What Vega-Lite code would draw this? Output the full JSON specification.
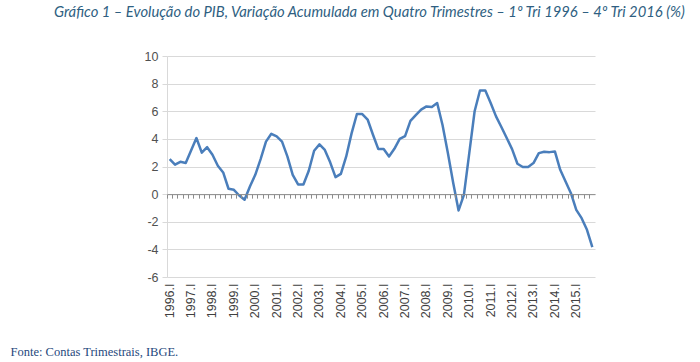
{
  "$schema": "https://vega.github.io/schema/vega-lite/v6.json",
  "autosize": "none",
  "padding": {"left": 167, "top": 56, "right": 105, "bottom": 85},
  "width": 428,
  "height": 221,
  "background": "white",
  "config": {"view": {"stroke": null}},
  "title": {
    "text": "Gráfico 1 – Evolução do PIB, Variação Acumulada em Quatro Trimestres – 1º Tri 1996 – 4º Tri 2016 (%)",
    "anchor": "start",
    "frame": "group",
    "dx": -113,
    "offset": 30,
    "font": "Lato",
    "fontStyle": "italic",
    "fontWeight": "normal",
    "fontSize": 14.8,
    "color": "#2f5f82"
  },
  "data": {
    "values": [
      {"q": "1996.I", "v": 2.54}, {"q": "1996.II", "v": 2.13}, {"q": "1996.III", "v": 2.34}, {"q": "1996.IV", "v": 2.25},
      {"q": "1997.I", "v": 3.16}, {"q": "1997.II", "v": 4.06}, {"q": "1997.III", "v": 3.0}, {"q": "1997.IV", "v": 3.4},
      {"q": "1998.I", "v": 2.85}, {"q": "1998.II", "v": 2.05}, {"q": "1998.III", "v": 1.57}, {"q": "1998.IV", "v": 0.39},
      {"q": "1999.I", "v": 0.31}, {"q": "1999.II", "v": -0.1}, {"q": "1999.III", "v": -0.41}, {"q": "1999.IV", "v": 0.55},
      {"q": "2000.I", "v": 1.4}, {"q": "2000.II", "v": 2.54}, {"q": "2000.III", "v": 3.8}, {"q": "2000.IV", "v": 4.37},
      {"q": "2001.I", "v": 4.18}, {"q": "2001.II", "v": 3.8}, {"q": "2001.III", "v": 2.73}, {"q": "2001.IV", "v": 1.4},
      {"q": "2002.I", "v": 0.7}, {"q": "2002.II", "v": 0.7}, {"q": "2002.III", "v": 1.69}, {"q": "2002.IV", "v": 3.14},
      {"q": "2003.I", "v": 3.6}, {"q": "2003.II", "v": 3.2}, {"q": "2003.III", "v": 2.3}, {"q": "2003.IV", "v": 1.23},
      {"q": "2004.I", "v": 1.47}, {"q": "2004.II", "v": 2.73}, {"q": "2004.III", "v": 4.4}, {"q": "2004.IV", "v": 5.8},
      {"q": "2005.I", "v": 5.8}, {"q": "2005.II", "v": 5.4}, {"q": "2005.III", "v": 4.3}, {"q": "2005.IV", "v": 3.26},
      {"q": "2006.I", "v": 3.26}, {"q": "2006.II", "v": 2.73}, {"q": "2006.III", "v": 3.28}, {"q": "2006.IV", "v": 4.0},
      {"q": "2007.I", "v": 4.2}, {"q": "2007.II", "v": 5.3}, {"q": "2007.III", "v": 5.72}, {"q": "2007.IV", "v": 6.12},
      {"q": "2008.I", "v": 6.35}, {"q": "2008.II", "v": 6.3}, {"q": "2008.III", "v": 6.6}, {"q": "2008.IV", "v": 5.0},
      {"q": "2009.I", "v": 2.97}, {"q": "2009.II", "v": 0.8}, {"q": "2009.III", "v": -1.18}, {"q": "2009.IV", "v": -0.05},
      {"q": "2010.I", "v": 2.97}, {"q": "2010.II", "v": 6.0}, {"q": "2010.III", "v": 7.5}, {"q": "2010.IV", "v": 7.5},
      {"q": "2011.I", "v": 6.6}, {"q": "2011.II", "v": 5.63}, {"q": "2011.III", "v": 4.86}, {"q": "2011.IV", "v": 4.06},
      {"q": "2012.I", "v": 3.26}, {"q": "2012.II", "v": 2.2}, {"q": "2012.III", "v": 1.96}, {"q": "2012.IV", "v": 1.96},
      {"q": "2013.I", "v": 2.25}, {"q": "2013.II", "v": 2.97}, {"q": "2013.III", "v": 3.07}, {"q": "2013.IV", "v": 3.04},
      {"q": "2014.I", "v": 3.09}, {"q": "2014.II", "v": 1.76}, {"q": "2014.III", "v": 0.92}, {"q": "2014.IV", "v": 0.07},
      {"q": "2015.I", "v": -1.14}, {"q": "2015.II", "v": -1.74}, {"q": "2015.III", "v": -2.58}, {"q": "2015.IV", "v": -3.84}
    ]
  },
  "layer": [
    {
      "mark": {"type": "line", "strokeOpacity": 0},
      "encoding": {
        "x": {
          "field": "q", "type": "ordinal", "sort": null,
          "scale": {"type": "band", "paddingInner": 0, "paddingOuter": 0},
          "axis": {
            "orient": "bottom",
            "offset": -82.875,
            "labels": false,
            "domain": true,
            "domainColor": "#8c8c8c",
            "ticks": true,
            "tickColor": "#8c8c8c",
            "tickSize": 4,
            "bandPosition": 0,
            "grid": false,
            "title": null,
            "zindex": 1
          }
        },
        "y": {
          "field": "v", "type": "quantitative",
          "scale": {"domain": [-6, 10], "nice": false, "zero": false},
          "axis": {
            "values": [-6, -4, -2, 0, 2, 4, 6, 8, 10],
            "labelExpr": "replace(datum.label, '−', '-')",
            "title": null,
            "grid": true,
            "gridColor": "#d9d9d9",
            "gridWidth": 1,
            "domain": true,
            "domainColor": "#d9d9d9",
            "ticks": true,
            "tickColor": "#d9d9d9",
            "tickSize": 5,
            "labelPadding": 4,
            "labelFont": "Liberation Sans",
            "labelFontSize": 12.5,
            "labelColor": "#505050"
          }
        }
      }
    },
    {
      "mark": {"type": "line", "color": "#4a7ebb", "strokeWidth": 2.5, "strokeJoin": "round"},
      "encoding": {
        "x": {
          "field": "q", "type": "ordinal", "sort": null,
          "axis": {
            "orient": "bottom",
            "domain": false,
            "ticks": false,
            "grid": false,
            "labelAngle": -90,
            "labelAlign": "right",
            "labelBaseline": "middle",
            "labelPadding": 6,
            "labelOverlap": false,
            "labelBound": false,
            "labelFont": "Liberation Sans",
            "labelFontSize": 12.5,
            "labelColor": "#404040",
            "labelExpr": "slice(datum.value, -2) == '.I' ? datum.value : ''",
            "title": "Fonte: Contas Trimestrais, IBGE.",
            "titleX": -157,
            "titleY": 74,
            "titleAlign": "left",
            "titleAnchor": "start",
            "titleBaseline": "middle",
            "titleAngle": 0,
            "titleFont": "Liberation Serif",
            "titleFontSize": 12.5,
            "titleFontWeight": "normal",
            "titleColor": "#1f497d"
          }
        },
        "y": {
          "field": "v", "type": "quantitative",
          "scale": {"domain": [-6, 10], "nice": false, "zero": false},
          "axis": {
            "values": [-6, -4, -2, 0, 2, 4, 6, 8, 10],
            "labelExpr": "replace(datum.label, '−', '-')",
            "title": null,
            "grid": true,
            "gridColor": "#d9d9d9",
            "gridWidth": 1,
            "domain": true,
            "domainColor": "#d9d9d9",
            "ticks": true,
            "tickColor": "#d9d9d9",
            "tickSize": 5,
            "labelPadding": 4,
            "labelFont": "Liberation Sans",
            "labelFontSize": 12.5,
            "labelColor": "#505050"
          }
        }
      }
    }
  ],
  "resolve": {"axis": {"x": "independent"}}
}
